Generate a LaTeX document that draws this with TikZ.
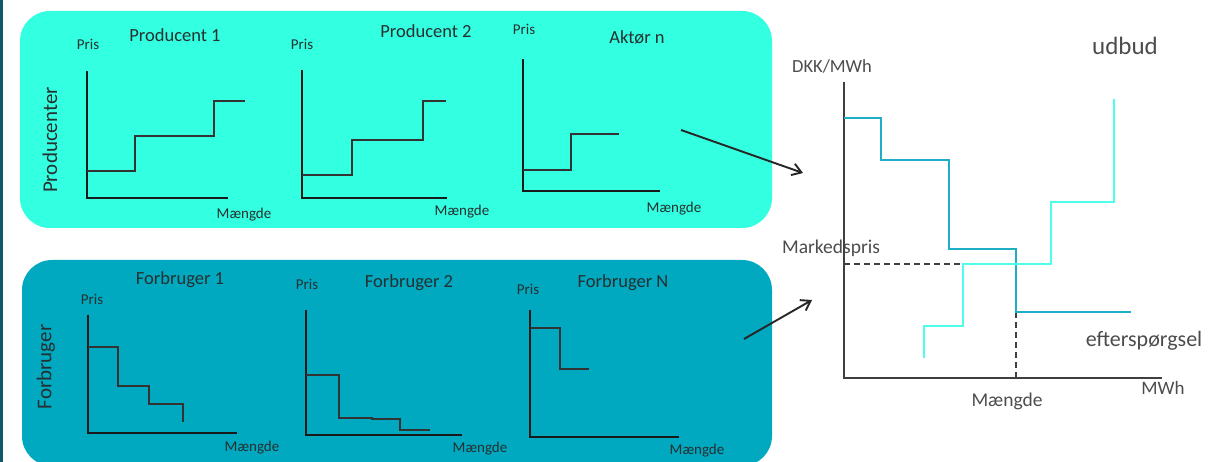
\documentclass[tikz,border=0pt]{standalone}
\usepackage{fontspec}
\setmainfont{Carlito}
\usetikzlibrary{arrows.meta}

\definecolor{prodfill}{HTML}{33FFE1}
\definecolor{forbfill}{HTML}{00A8C0}
\definecolor{edgebar}{HTML}{0F5868}
\definecolor{txt}{HTML}{263030}
\definecolor{axisgray}{HTML}{3F3F3F}
\definecolor{demand}{HTML}{1EAEC6}
\definecolor{supply}{HTML}{4DFFEA}

\tikzset{
  lbl/.style={text=txt, inner sep=0pt, font=\fontsize{15}{17}\selectfont},
  ttl/.style={text=txt, inner sep=0pt, font=\fontsize{18.5}{20}\selectfont},
  side/.style={text=txt, inner sep=0pt, rotate=90, font=\fontsize{21}{23}\selectfont},
  axis/.style={black!90, line width=2.6pt},
  stepline/.style={black!80, line width=1.5pt},
  flow/.style={black!85, line width=1.9pt, -{Straight Barb[length=9pt,width=12pt]}},
}

\begin{document}
\begin{tikzpicture}[x=1pt,y=-1pt]
	\useasboundingbox (0,0) rectangle (1208,462);
	\fill[edgebar] (0,0) rectangle (2.5,462);
	% the two groups
	\fill[prodfill,rounded corners=30pt] (20,11) rectangle (772,228);
	\fill[forbfill,rounded corners=30pt] (22,260) rectangle (772,466);
	\node[side] (prodlab) at (50,140) {Producenter};
	\node[side] (forblab) at (46,367) {Forbruger};

	% producent 1
	\node[lbl] (pris1) at (88,44) {Pris};
	\node[ttl] (prod1) at (175,35) {Producent 1};
	\node[lbl] (mgd1) at (244,215) {Mængde};
	\draw[axis] (87,71)--(87,198)--(228,198);
	\draw[stepline] (87,171)--(135,171)--(135,136)--(214,136)--(214,101)--(245,101);

	% producent 2
	\node[lbl] (pris2) at (302,44) {Pris};
	\node[ttl] (prod2) at (426,31) {Producent 2};
	\node[lbl] (mgd2) at (462,212) {Mængde};
	\draw[axis] (302,70)--(302,198)--(447,198);
	\draw[stepline] (302,175)--(352,175)--(352,140)--(423,140)--(423,101)--(446,101);

	% aktoer n
	\node[lbl] (pris3) at (524,29) {Pris};
	\node[ttl] (prod3) at (637,37) {Aktør n};
	\node[lbl] (mgd3) at (674,209) {Mængde};
	\draw[axis] (523,59)--(523,191)--(660,191);
	\draw[stepline] (523,170)--(571,170)--(571,134)--(619,134);

	% forbruger 1
	\node[lbl] (pris4) at (92,299) {Pris};
	\node[ttl] (forb1) at (180,280) {Forbruger 1};
	\node[lbl] (mgd4) at (252,448) {Mængde};
	\draw[axis] (88,315)--(88,433)--(237,433);
	\draw[stepline] (88,347)--(118,347)--(118,386)--(149,386)--(149,404)--(183,404)--(183,422);

	% forbruger 2
	\node[lbl] (pris5) at (307,284) {Pris};
	\node[ttl] (forb2) at (409,283) {Forbruger 2};
	\node[lbl] (mgd5) at (480,449) {Mængde};
	\draw[axis] (306,310)--(306,435)--(462,435);
	\draw[stepline] (306,375)--(339,375)--(339,418)--(372,418)--(372,419)--(400,419)--(400,430)--(430,430);

	% forbruger N
	\node[lbl] (pris6) at (528,289) {Pris};
	\node[ttl] (forb3) at (623,283) {Forbruger N};
	\node[lbl] (mgd6) at (697,451) {Mængde};
	\draw[axis] (530,310)--(530,437)--(679,437);
	\draw[stepline] (530,328)--(560,328)--(560,369)--(589,369);

	% into the market
	\coordinate (prodout) at (681,130);
	\coordinate (mktin1) at (803,173);
	\coordinate (forbout) at (744,339);
	\coordinate (mktin2) at (812,300);
	\draw[flow] (prodout)--(mktin1);
	\draw[flow] (forbout)--(mktin2);

	% market
	\node[ttl,text=black!70,font=\fontsize{18.5}{20}\selectfont] (dkk) at (832,66) {DKK/MWh};
	\node[ttl,text=black!70,font=\fontsize{25}{27}\selectfont] (udbud) at (1125,46) {udbud};
	\node[ttl,text=black!70,font=\fontsize{19.5}{21}\selectfont] (mpris) at (831,248) {Markedspris};
	\node[ttl,text=black!70,font=\fontsize{22}{24}\selectfont] (eftersp) at (1144,341) {efterspørgsel};
	\node[ttl,text=black!70,font=\fontsize{19}{21}\selectfont] (mwh) at (1163,388) {MWh};
	\node[ttl,text=black!70,font=\fontsize{19.5}{21}\selectfont] (mgd7) at (1007,401) {Mængde};
	\draw[axisgray,line width=1.8pt] (844,82)--(844,378)--(1162,378);
	\draw[axisgray,line width=1.6pt,dash pattern=on 6pt off 4pt] (844,264)--(963,264);
	\draw[axisgray,line width=1.6pt,dash pattern=on 6pt off 4pt] (1016,312)--(1016,378);
	\draw[demand,line width=2pt] (844,118)--(881,118)--(881,160)--(949,160)--(949,249)--(1016,249)--(1016,312)--(1131,312);
	\draw[supply,line width=2pt] (924,358)--(924,326)--(963,326)--(963,264)--(1051,264)--(1051,202)--(1114,202)--(1114,99);
\end{tikzpicture}
\end{document}
